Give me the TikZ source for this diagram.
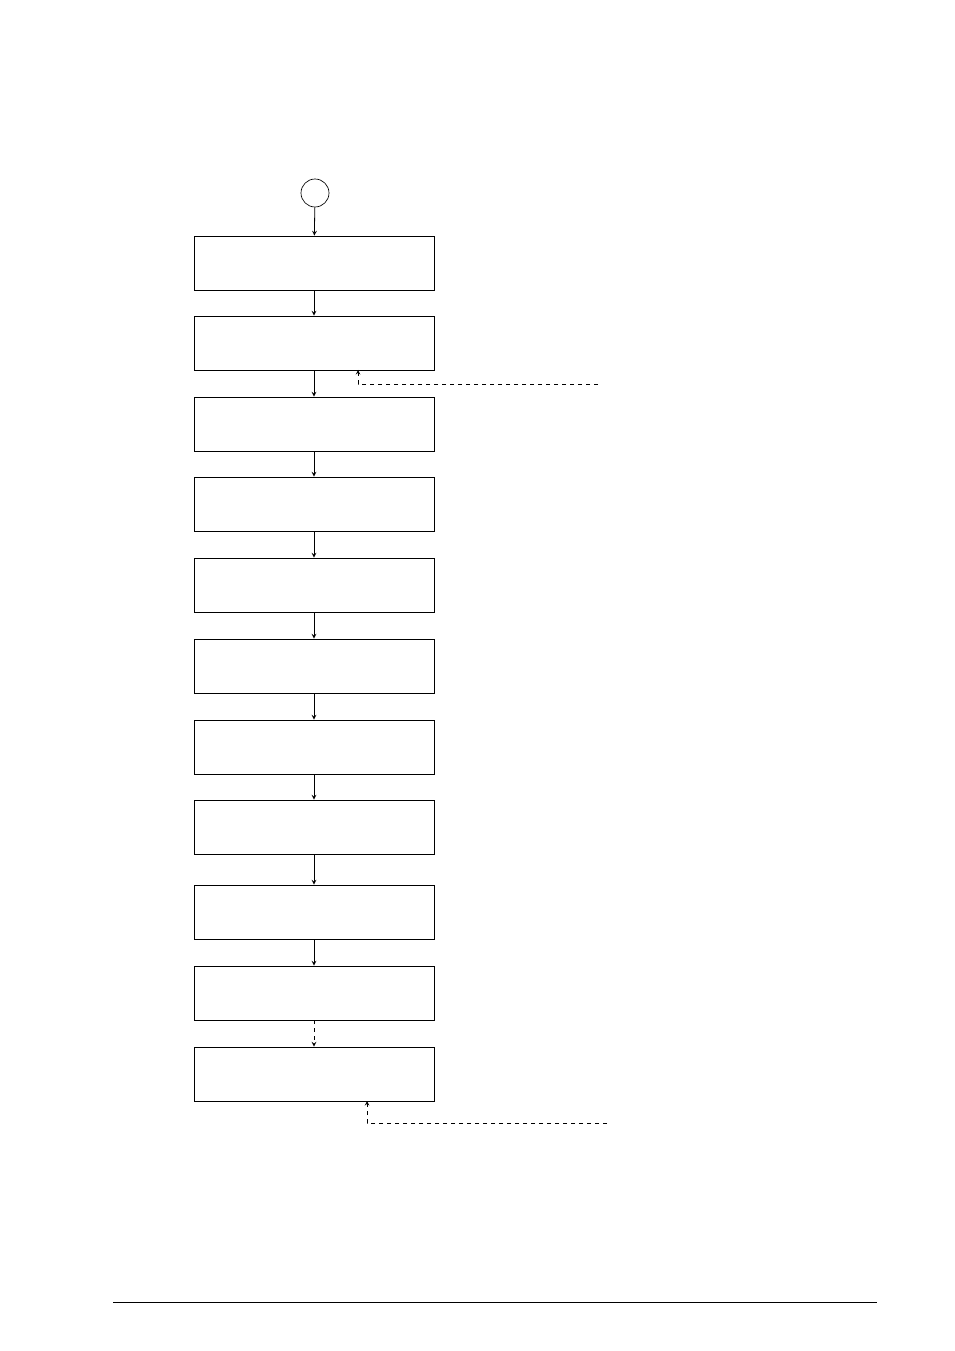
\documentclass[tikz,border=0pt]{standalone}
\usepackage{tikz}
\usetikzlibrary{shapes,arrows}

\begin{document}
\begin{tikzpicture}[x=0.75pt,y=0.75pt,yscale=-1,xscale=1]
    \useasboundingbox (0,0) rectangle (954,1351);
    \tikzset{stepbox/.style={draw,line width=0.6pt,minimum width=180pt,minimum height=40.5pt,inner sep=0pt},
             flow/.style={-stealth,line width=0.6pt}}

    % Start circle
    \node [draw,circle,minimum size=21pt,inner sep=0pt,line width=0.5pt] (start) at (315,193) {};
    % Boxes
    \node [stepbox] (b1) at (314,263) {};
    \node [stepbox] (b2) at (314,343) {};
    \node [stepbox] (b3) at (314,424) {};
    \node [stepbox] (b4) at (314,504) {};
    \node [stepbox] (b5) at (314,585) {};
    \node [stepbox] (b6) at (314,666) {};
    \node [stepbox] (b7) at (314,747) {};
    \node [stepbox] (b8) at (314,827) {};
    \node [stepbox] (b9) at (314,912) {};
    \node [stepbox] (b10) at (314,993) {};
    \node [stepbox] (b11) at (314,1074) {};

    % Connectors
    \draw [flow] (start) -- (b1);
    \draw [flow] (b1) -- (b2);
    \draw [flow] (b2) -- (b3);
    \draw [flow] (b3) -- (b4);
    \draw [flow] (b4) -- (b5);
    \draw [flow] (b5) -- (b6);
    \draw [flow] (b6) -- (b7);
    \draw [flow] (b7) -- (b8);
    \draw [flow] (b8) -- (b9);
    \draw [flow] (b9) -- (b10);
    \draw [flow,dashed] (b10) -- (b11);

    % Dashed feedback lines
    \coordinate (fb1) at (598,384);
    \coordinate (fb2) at (607,1123);
    \draw [-stealth,dashed,line width=0.5pt] (fb1) -- (358,384) -- (358,370);
    \draw [-stealth,dashed,line width=0.5pt] (fb2) -- (367,1123) -- (367,1101);

    % Footer rule
    \draw [line width=0.5pt] (113,1302) -- (877,1302);
\end{tikzpicture}
\end{document}
